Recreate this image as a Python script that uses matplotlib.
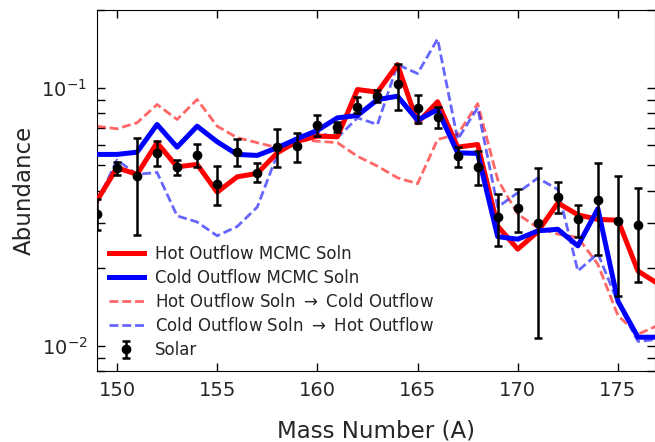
import matplotlib
matplotlib.use("Agg")
import matplotlib.pyplot as plt
from matplotlib.ticker import NullFormatter, LogLocator
import numpy as np

# mass numbers for the model curves
mass = np.arange(149, 178)

hot_mcmc = [0.0365, 0.0490, 0.0462, 0.0613, 0.0494, 0.0505, 0.0394, 0.0452, 0.0466, 0.0560,
            0.0621, 0.0650, 0.0646, 0.0985, 0.0962, 0.1231, 0.0732, 0.0883, 0.0589, 0.0603,
            0.0291, 0.0237, 0.0277, 0.0358, 0.0322, 0.0309, 0.0307, 0.0195, 0.0174]
cold_mcmc = [0.0552, 0.0552, 0.0563, 0.0721, 0.0589, 0.0710, 0.0618, 0.0552, 0.0547, 0.0586,
             0.0635, 0.0684, 0.0765, 0.0781, 0.0900, 0.0928, 0.0749, 0.0824, 0.0560, 0.0557,
             0.0265, 0.0259, 0.0279, 0.0283, 0.0244, 0.0340, 0.0149, 0.0108, 0.0108]
hot_to_cold = [0.0710, 0.0694, 0.0732, 0.0862, 0.0754, 0.0901, 0.0710, 0.0641, 0.0613, 0.0586,
               0.0631, 0.0621, 0.0613, 0.0543, 0.0497, 0.0448, 0.0425, 0.0631, 0.0660, 0.0869,
               0.0441, 0.0324, 0.0287, 0.0271, 0.0263, 0.0207, 0.0131, 0.0111, 0.0120]
cold_to_hot = [0.0360, 0.0525, 0.0462, 0.0470, 0.0319, 0.0302, 0.0267, 0.0290, 0.0345, 0.0552,
               0.0650, 0.0670, 0.0641, 0.0765, 0.0721, 0.1231, 0.1136, 0.1547, 0.0631, 0.0837,
               0.0345, 0.0392, 0.0447, 0.0404, 0.0195, 0.0228, 0.0147, 0.0104, 0.0106]

# solar residuals with lower / upper bounds
solar_mass = np.arange(149, 177)
solar = [0.0323, 0.0487, 0.0455, 0.0560, 0.0494, 0.0548, 0.0425, 0.0565, 0.0469, 0.0592,
         0.0594, 0.0719, 0.0708, 0.0846, 0.0928, 0.1036, 0.0834, 0.0768, 0.0543, 0.0494,
         0.0317, 0.0341, 0.0298, 0.0378, 0.0309, 0.0369, 0.0306, 0.0293]
solar_lo = [0.0280, 0.0458, 0.0269, 0.0497, 0.0459, 0.0493, 0.0352, 0.0497, 0.0431, 0.0493,
            0.0516, 0.0650, 0.0673, 0.0800, 0.0880, 0.0824, 0.0732, 0.0696, 0.0493, 0.0419,
            0.0244, 0.0276, 0.0107, 0.0326, 0.0265, 0.0225, 0.0156, 0.0177]
solar_hi = [0.0370, 0.0516, 0.0641, 0.0621, 0.0527, 0.0605, 0.0497, 0.0633, 0.0511, 0.0690,
            0.0671, 0.0783, 0.0736, 0.0920, 0.0982, 0.1234, 0.0942, 0.0844, 0.0589, 0.0567,
            0.0388, 0.0404, 0.0487, 0.0430, 0.0351, 0.0510, 0.0455, 0.0408]

txt = "0.15"
plt.rcParams["font.family"] = ["DejaVu Sans"]

fig = plt.figure(figsize=(6.55, 4.42), dpi=100)
ax = fig.add_axes([0.148, 0.161, 0.852, 0.816])

ax.plot(mass, hot_mcmc, color="#ff0000", lw=3.6, label="Hot Outflow MCMC Soln", zorder=3)
ax.plot(mass, cold_mcmc, color="#0000ff", lw=3.6, label="Cold Outflow MCMC Soln", zorder=3)
ax.plot(mass, hot_to_cold, color="#ff0000", alpha=0.6, lw=2, dashes=(3.2, 1.4),
        label=r"Hot Outflow Soln $\rightarrow$ Cold Outflow", zorder=2)
ax.plot(mass, cold_to_hot, color="#0000ff", alpha=0.6, lw=2, dashes=(3.2, 1.4),
        label=r"Cold Outflow Soln $\rightarrow$ Hot Outflow", zorder=2)

solar = np.array(solar)
yerr = [solar - np.array(solar_lo), np.array(solar_hi) - solar]
ax.errorbar(solar_mass, solar, yerr=yerr, fmt="o", color="black", ms=6, elinewidth=1.8,
            capsize=3, capthick=1.8, label="Solar", zorder=4)

ax.set_yscale("log")
ax.set_xlim(149, 176.85)
ax.set_ylim(0.008, 0.2)
ax.set_xticks([150, 155, 160, 165, 170, 175])
ax.yaxis.set_minor_locator(LogLocator(base=10, subs=np.arange(2, 10)))
ax.yaxis.set_minor_formatter(NullFormatter())

ax.tick_params(which="both", direction="in", top=True, right=True, length=5.5, width=1,
               labelsize=14, labelcolor=txt, pad=7)

ax.set_xlabel("Mass Number (A)", fontsize=16.5, color=txt, labelpad=14)
ax.set_ylabel("Abundance", fontsize=16.5, color=txt, labelpad=4)

ax.legend(loc="lower left", frameon=False, fontsize=12, labelcolor=txt,
          handlelength=2.1, handletextpad=0.7, labelspacing=0.37, borderaxespad=0.3)

fig.savefig("out.png", dpi=100)
